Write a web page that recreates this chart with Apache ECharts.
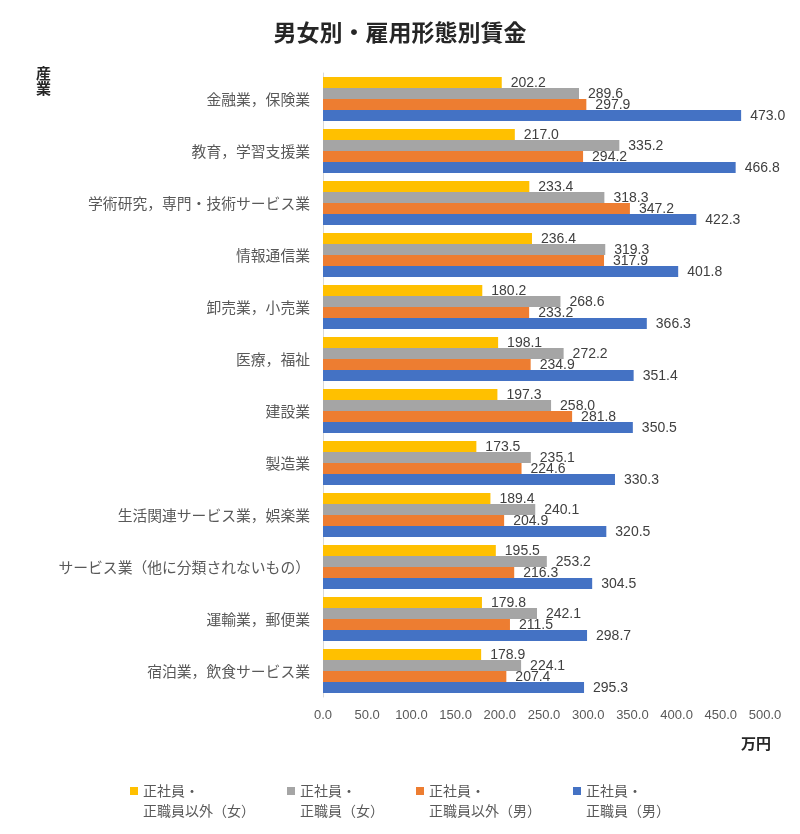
<!DOCTYPE html>
<html>
<head>
<meta charset="utf-8">
<script src="https://cdn.jsdelivr.net/npm/echarts@6/dist/echarts.min.js"></script>
<style>html,body{margin:0;padding:0;background:#fff;}#c{width:800px;height:834px;}</style>
</head>
<body>
<div id="c"></div>
<script>
const categories = ['金融業，保険業','教育，学習支援業','学術研究，専門・技術サービス業','情報通信業','卸売業，小売業','医療，福祉','建設業','製造業','生活関連サービス業，娯楽業','サービス業（他に分類されないもの）','運輸業，郵便業','宿泊業，飲食サービス業'];
const femaleNonRegular = [202.2,217.0,233.4,236.4,180.2,198.1,197.3,173.5,189.4,195.5,179.8,178.9];
const femaleRegular = [289.6,335.2,318.3,319.3,268.6,272.2,258.0,235.1,240.1,253.2,242.1,224.1];
const maleNonRegular = [297.9,294.2,347.2,317.9,233.2,234.9,281.8,224.6,204.9,216.3,211.5,207.4];
const maleRegular = [473.0,466.8,422.3,401.8,366.3,351.4,350.5,330.3,320.5,304.5,298.7,295.3];
const seriesNames = ['正社員・\n正職員以外（女）','正社員・\n正職員（女）','正社員・\n正職員以外（男）','正社員・\n正職員（男）'];
const xTicks = {min:0, max:500, interval:50};

const colors = ['#FFC000','#A5A5A5','#ED7D31','#4472C4'];
const values = [femaleNonRegular, femaleRegular, maleNonRegular, maleRegular];
const chart = echarts.init(document.getElementById('c'));
const cjk = '"Noto Sans CJK JP", "Noto Sans", sans-serif';
const num = '"Liberation Sans", Arial, sans-serif';
chart.setOption({
  animation:false,
  title:{text:'男女別・雇用形態別賃金', left:'center', top:16, textStyle:{fontFamily:cjk, fontSize:23, fontWeight:'bold', color:'#262626'}},
  grid:{left:323, right:35, top:73, bottom:137, containLabel:false},
  legend:{
    bottom:8, left:'center', itemGap:32, itemWidth:8, itemHeight:28,
    icon:'path://M0,0 L8,0 L8,8 L0,8 Z M0,28 L0.01,28',
    textStyle:{fontFamily:cjk, fontSize:14, color:'#595959', lineHeight:20},
    data: seriesNames
  },
  xAxis:{type:'value', min:xTicks.min, max:xTicks.max, interval:xTicks.interval,
    axisLine:{show:false}, axisTick:{show:false}, splitLine:{show:false},
    axisLabel:{fontFamily:num, fontSize:13, color:'#595959', margin:12, formatter:v=>v.toFixed(1)}},
  yAxis:{type:'category', data:categories, inverse:true,
    axisLine:{show:true, lineStyle:{color:'#D9D9D9', width:1}}, axisTick:{show:false},
    axisLabel:{fontFamily:cjk, fontSize:14.8, color:'#595959', margin:13}},
  graphic:[
    {type:'text', left:36, top:66, style:{text:'産\n業', fontFamily:cjk, fontSize:15, fontWeight:'bold', fill:'#262626', lineHeight:15}},
    {type:'text', left:741, top:736, style:{text:'万円', fontFamily:cjk, fontSize:15, fontWeight:'bold', fill:'#262626'}}
  ],
  series: values.map((d,i)=>({
    type:'bar', name:seriesNames[i], data:d, barGap:'0%', barCategoryGap:'15%',
    itemStyle:{color:colors[i]},
    label:{show:true, position:'right', distance:9, offset:[0,1], fontFamily:num, fontSize:14, color:'#404040', formatter:p=>p.value.toFixed(1)}
  }))
});
</script>
</body>
</html>
